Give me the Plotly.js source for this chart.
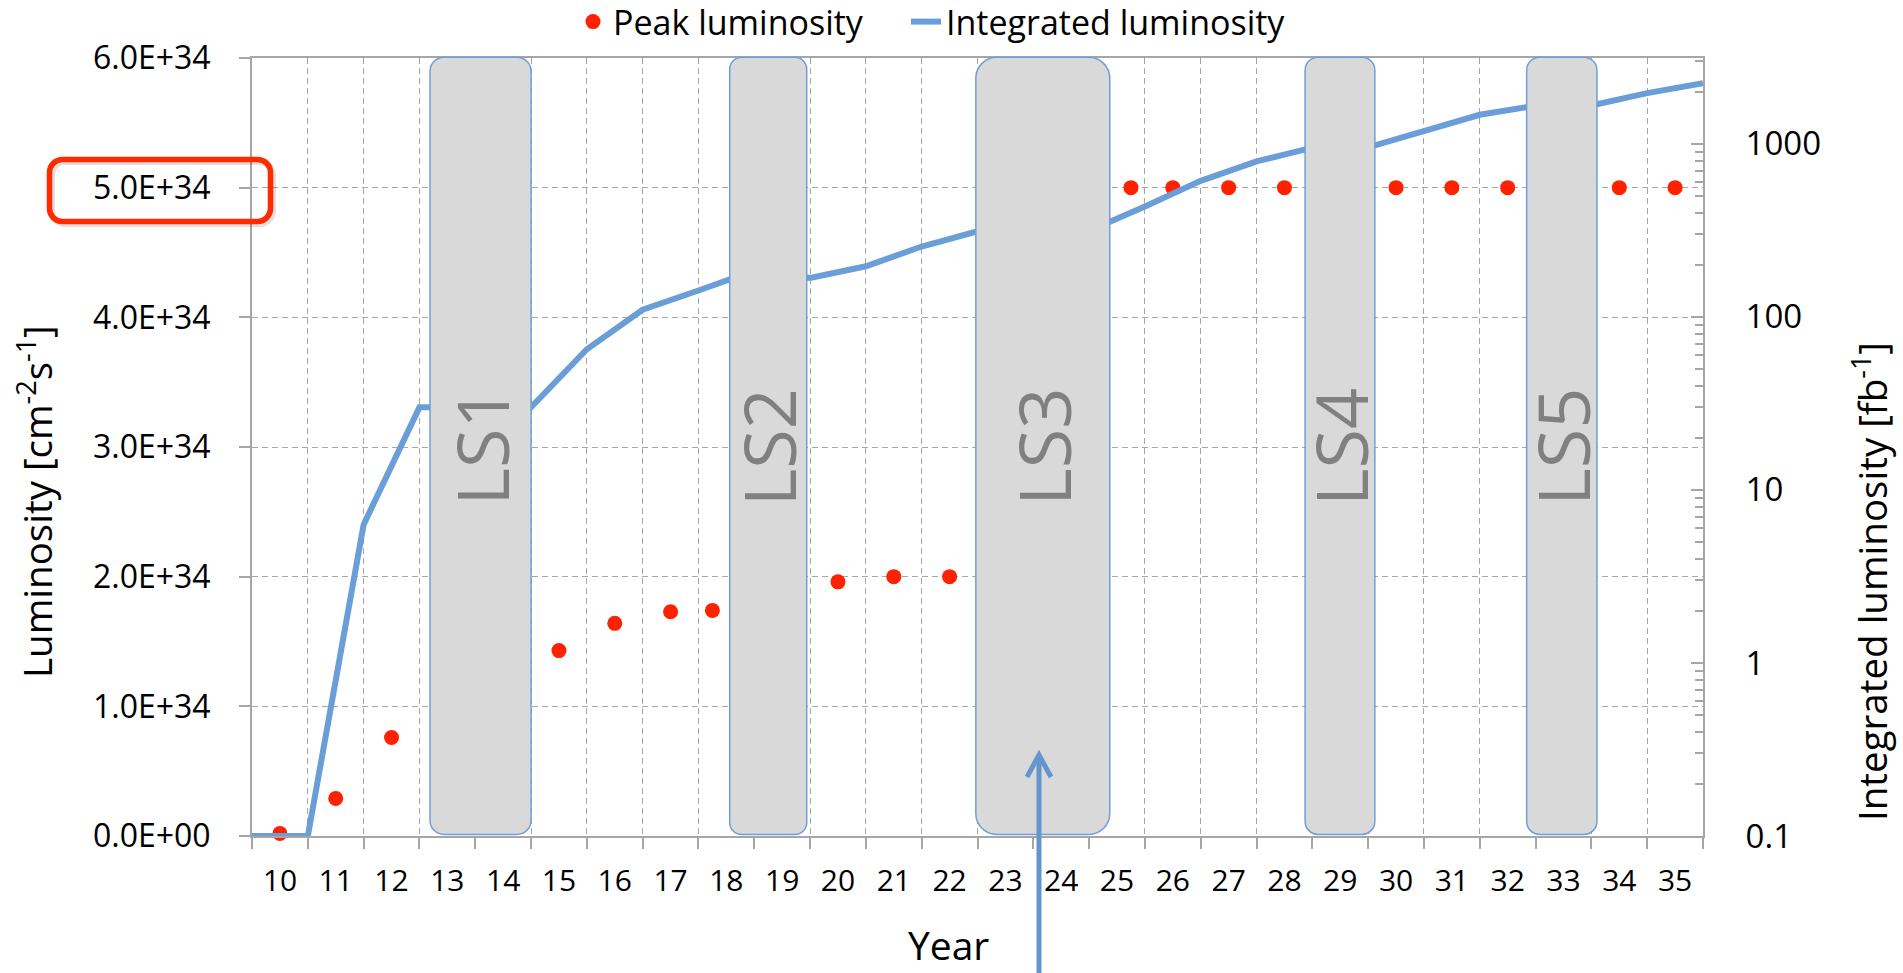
<!DOCTYPE html>
<html>
<head>
<meta charset="utf-8">
<script src="https://cdn.plot.ly/plotly-3.0.1.min.js"></script>
<style>
html,body{margin:0;padding:0;background:#fff;}
#chart{width:1903px;height:973px;}
</style>
</head>
<body>
<div id="chart"></div>
<script>
// ---------------- data ----------------
const yearTicks  = [10,11,12,13,14,15,16,17,18,19,20,21,22,23,24,25,26,27,28,29,30,31,32,33,34,35];
const yearLabels = ['10','11','12','13','14','15','16','17','18','19','20','21','22','23','24','25','26','27','28','29','30','31','32','33','34','35'];

// Peak luminosity [cm^-2 s^-1] (x = position on the year axis)
const peakX      = [10, 11, 12, 15, 16, 17, 17.75, 20, 21, 22, 25.25, 26, 27, 28, 30, 31, 32, 34, 35];
const peakValues = [0.02e34, 0.29e34, 0.76e34, 1.43e34, 1.64e34, 1.73e34, 1.74e34, 1.96e34, 2.0e34, 2.0e34,
                    5.0e34, 5.0e34, 5.0e34, 5.0e34, 5.0e34, 5.0e34, 5.0e34, 5.0e34, 5.0e34];

// Integrated luminosity [fb^-1], values at year boundaries
const intX      = [9.5,10.5,11.5,12.5,13.5,14.5,15.5,16.5,17.5,18.5,19.5,20.5,21.5,22.5,23.5,24.5,25.5,26.5,27.5,28.5,29.5,30.5,31.5,32.5,33.5,34.5,35.5];
const intValues = [0.1,0.1,6.3,30,30,30,65,110,142,185,168,196,255,312,314,315,435,611,791,950,955,1178,1472,1660,1665,1963,2243];

// Long shutdowns (start / end on the year axis)
const lsNames = ['LS1','LS2','LS3','LS4','LS5'];
const lsStart = [12.69, 18.06, 22.47, 28.37, 32.34];
const lsEnd   = [14.50, 19.44, 24.87, 29.62, 33.60];

const leftTickVals  = [0, 1e34, 2e34, 3e34, 4e34, 5e34, 6e34];
const leftTickText  = ['0.0E+00','1.0E+34','2.0E+34','3.0E+34','4.0E+34','5.0E+34','6.0E+34'];
const rightTickVals = [0.1, 1, 10, 100, 1000];
const rightTickText = ['0.1','1','10','100','1000'];

// ---------------- layout helpers ----------------
const FONT = '"Open Sans", sans-serif';
const PL = 252, PT = 58, PW = 1451, PH = 778;          // plot area in pixels
const px = p => (p - PL) / PW;                          // pixel -> paper x
const py = p => (PT + PH - p) / PH;                     // pixel -> paper y
const GRID = '#a6a6a6';
const BLUE = '#6a9ed8';
const RED  = '#ff2200';
const lsRadiusPx = [14, 12, 21, 13, 13];
const XPX = PW / 26;                                    // pixels per year

function roundRect(x0, x1, y0, y1, rx, ry) {
  const k = 0.4477; // 1 - 0.5523
  return `M${x0+rx},${y0} L${x1-rx},${y0} C${x1-rx*k},${y0} ${x1},${y0+ry*k} ${x1},${y0+ry} ` +
         `L${x1},${y1-ry} C${x1},${y1-ry*k} ${x1-rx*k},${y1} ${x1-rx},${y1} ` +
         `L${x0+rx},${y1} C${x0+rx*k},${y1} ${x0},${y1-ry*k} ${x0},${y1-ry} ` +
         `L${x0},${y0+ry} C${x0},${y0+ry*k} ${x0+rx*k},${y0} ${x0+rx},${y0} Z`;
}

const boundaries = [yearTicks[0] - 0.5].concat(yearTicks.map(v => v + 0.5));
const logMinor = [];
[0.1, 1, 10, 100, 1000].forEach(d => { for (let m = 2; m <= 9; m++) logMinor.push(d * m); });

// ---------------- traces ----------------
const traces = [
  {
    type: 'scatter', mode: 'markers', name: 'Peak luminosity',
    x: peakX, y: peakValues, xaxis: 'x', yaxis: 'y',
    marker: {color: RED, size: 15},
    cliponaxis: false, legend: 'legend', hoverinfo: 'x+y'
  },
  {
    type: 'scatter', mode: 'lines', name: 'Integrated luminosity',
    x: intX, y: intValues, xaxis: 'x', yaxis: 'y2',
    line: {color: BLUE, width: 6},
    legend: 'legend2', hoverinfo: 'x+y'
  }
];

// ---------------- shapes & annotations ----------------
const shapes = [];
const annotations = [];

lsNames.forEach((name, i) => {
  const r = lsRadiusPx[i];
  shapes.push({
    type: 'path', xref: 'x', yref: 'paper', layer: 'above',
    path: roundRect(lsStart[i], lsEnd[i], 0.002, 1.001, r / XPX, r / PH),
    fillcolor: '#d9d9d9', line: {color: '#6f9fd8', width: 1.5}
  });
  annotations.push({
    xref: 'x', yref: 'paper', x: (lsStart[i] + lsEnd[i]) / 2, y: 0.5,
    text: name, textangle: -90, showarrow: false,
    font: {family: FONT, size: 72, color: '#808080'},
    xanchor: 'center', yanchor: 'middle'
  });
});

// red highlight around the 5.0E+34 label (with light shadow)
shapes.push({
  type: 'path', xref: 'paper', yref: 'paper', layer: 'above',
  path: roundRect(px(52), px(273), py(224), py(162), 13 / PW, 13 / PH),
  line: {color: 'rgba(0,0,0,0.12)', width: 6}, fillcolor: 'rgba(0,0,0,0)'
});
shapes.push({
  type: 'path', xref: 'paper', yref: 'paper', layer: 'above',
  path: roundRect(px(49.5), px(270.5), py(221.5), py(159.5), 13 / PW, 13 / PH),
  line: {color: '#ff2a00', width: 5.5}, fillcolor: 'rgba(0,0,0,0)'
});

// blue arrow pointing at LS3
shapes.push({
  type: 'line', xref: 'paper', yref: 'paper', layer: 'above',
  x0: px(1039), x1: px(1039), y0: py(975), y1: py(756),
  line: {color: '#6496cd', width: 5}
});
shapes.push({
  type: 'path', xref: 'paper', yref: 'paper', layer: 'above',
  path: `M${px(1027)},${py(777)} L${px(1039)},${py(755)} L${px(1051)},${py(777)}`,
  line: {color: '#6496cd', width: 5}
});

// axis titles
annotations.push({
  xref: 'paper', yref: 'paper', x: px(35), y: py(501),
  text: 'Luminosity [cm<sup>-2</sup>s<sup>-1</sup>]', textangle: -90, showarrow: false,
  font: {family: FONT, size: 38.5, color: '#000'}, xanchor: 'center', yanchor: 'middle'
});
annotations.push({
  xref: 'paper', yref: 'paper', x: px(1870), y: py(582),
  text: 'Integrated luminosity [fb<sup>-1</sup>]', textangle: -90, showarrow: false,
  font: {family: FONT, size: 38.5, color: '#000'}, xanchor: 'center', yanchor: 'middle'
});
annotations.push({
  xref: 'paper', yref: 'paper', x: px(948), y: py(944),
  text: 'Year', showarrow: false,
  font: {family: FONT, size: 39, color: '#000'}, xanchor: 'center', yanchor: 'middle'
});

// ---------------- layout ----------------
const layout = {
  width: 1903, height: 973,
  margin: {l: PL, r: 1903 - PL - PW, t: PT, b: 973 - PT - PH, autoexpand: false},
  paper_bgcolor: '#fff', plot_bgcolor: '#fff',
  font: {family: FONT, color: '#000'},
  showlegend: true,
  legend: {
    orientation: 'h', x: px(573), y: py(22), xanchor: 'left', yanchor: 'middle',
    font: {family: FONT, size: 34, color: '#000'}, bgcolor: 'rgba(0,0,0,0)'
  },
  legend2: {
    orientation: 'h', x: px(906), y: py(22), xanchor: 'left', yanchor: 'middle',
    font: {family: FONT, size: 34, color: '#000'}, bgcolor: 'rgba(0,0,0,0)'
  },
  xaxis: {
    range: [boundaries[0], boundaries[boundaries.length - 1]],
    tickmode: 'array', tickvals: yearTicks, ticktext: yearLabels,
    ticks: 'outside', ticklen: 11, tickcolor: 'rgba(0,0,0,0)',
    ticklabelstandoff: 6,
    tickfont: {family: FONT, size: 30, color: '#000'},
    showgrid: false, zeroline: false,
    showline: true, linecolor: GRID, linewidth: 2, mirror: true,
    minor: {
      tickmode: 'array', tickvals: boundaries, ticks: 'outside', ticklen: 11,
      tickcolor: GRID, tickwidth: 1.5,
      showgrid: true, gridcolor: GRID, gridwidth: 1.3, griddash: '6px,4px'
    },
    fixedrange: true
  },
  yaxis: {
    range: [0, 6e34],
    tickmode: 'array', tickvals: leftTickVals, ticktext: leftTickText,
    ticks: 'outside', ticklen: 11, tickcolor: GRID, tickwidth: 1.5,
    ticklabelstandoff: 22,
    tickfont: {family: FONT, size: 32, color: '#000'},
    showgrid: true, gridcolor: GRID, gridwidth: 1.3, griddash: '6px,4px',
    zeroline: false, showline: true, linecolor: GRID, linewidth: 2,
    fixedrange: true
  },
  yaxis2: {
    type: 'log', range: [-1, 3.496], overlaying: 'y', side: 'right',
    tickmode: 'array', tickvals: rightTickVals, ticktext: rightTickText,
    ticks: 'inside', ticklen: 12, tickcolor: GRID, tickwidth: 1.5,
    ticklabelstandoff: 34,
    tickfont: {family: FONT, size: 33, color: '#000'},
    showgrid: false, zeroline: false, showline: true, linecolor: GRID, linewidth: 2,
    minor: {tickmode: 'array', tickvals: logMinor, ticks: 'inside', ticklen: 8,
            tickcolor: GRID, tickwidth: 1.5, showgrid: false},
    fixedrange: true
  },
  shapes: shapes,
  annotations: annotations
};

Plotly.newPlot('chart', traces, layout, {displayModeBar: false});
</script>
</body>
</html>
